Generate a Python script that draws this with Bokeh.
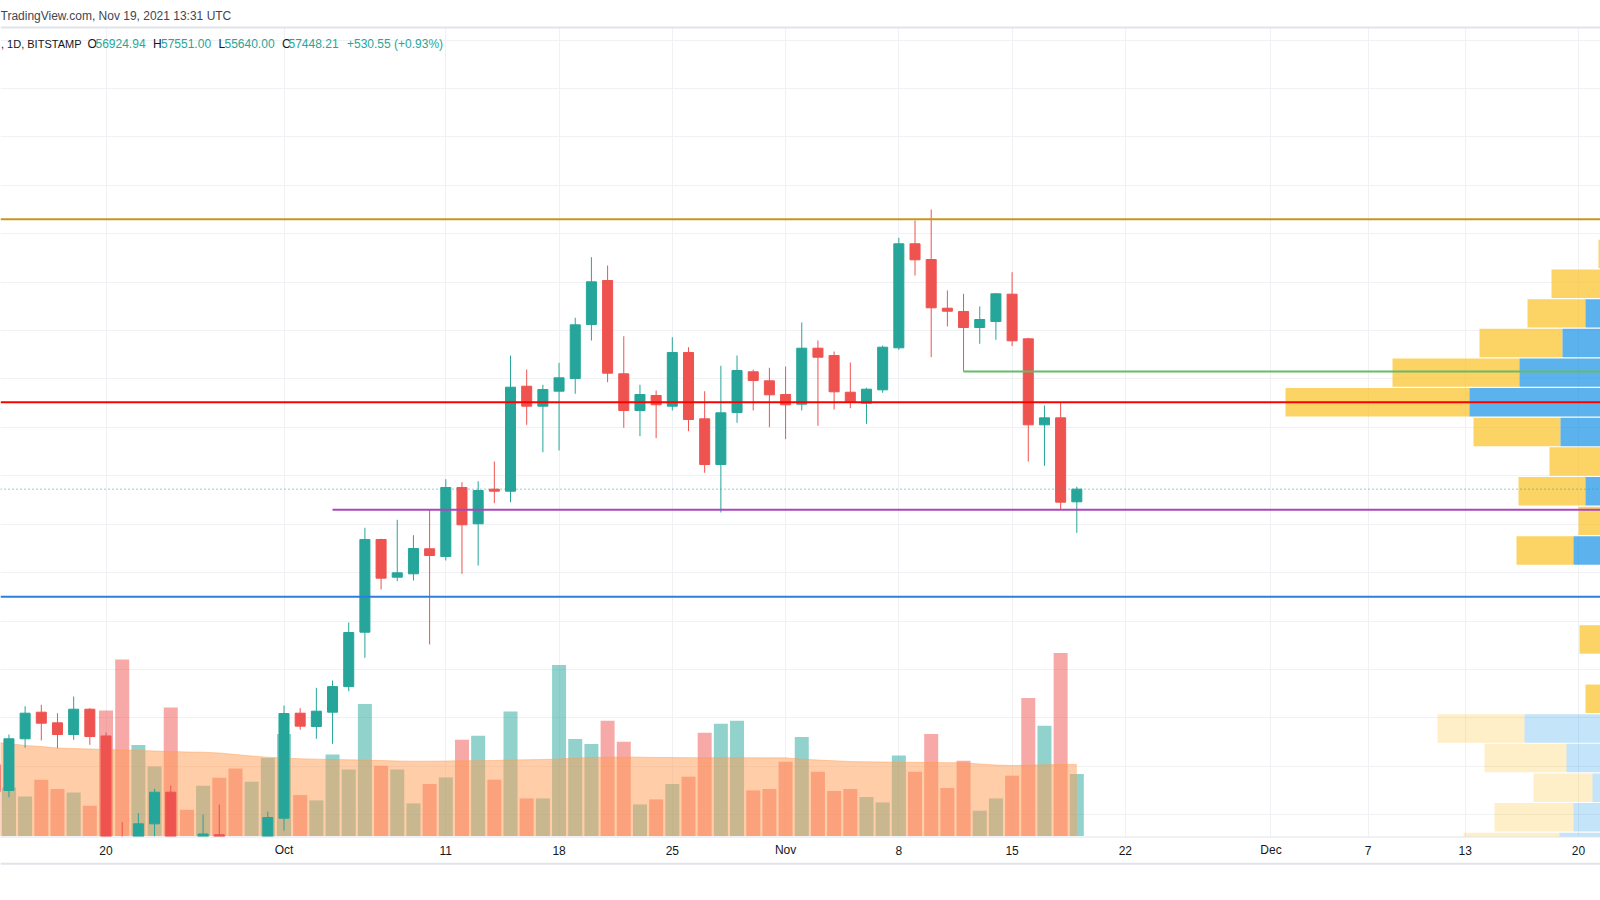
import pandas as pd
from bokeh.plotting import figure
from bokeh.models import Range1d, ColumnDataSource, Span, Label, LabelSet, Grid, FixedTicker
from bokeh.core.properties import value
from bokeh.embed import file_html
from bokeh.resources import INLINE

# ---------------- data ----------------
first_day = "2021-09-13"
last_day = "2021-11-19"

opens = [46060, 44996, 47133, 48232, 47792, 47310, 48356, 47250, 42990, 40700, 43620, 44926, 42800, 42700, 43170, 42150, 41050, 41520,
         43853, 48191, 47640, 48232, 49290, 51538, 55368, 53810, 53950, 54984, 54666, 57517, 56017, 57447, 57364, 61702, 60876, 61496,
         62020, 64252, 66070, 62215, 60698, 61318, 60876, 63095, 60355, 58467, 60615, 62297, 61925,
         61359, 60959, 63272, 62971, 61454, 61000, 61553, 63289, 67587, 66937, 64925, 64790, 64128, 64375, 65505, 63660, 60107, 60396, 56924.94]
highs = [46770, 47310, 48480, 48538, 48191, 48881, 48398, 47393, 43690, 44060, 45067, 45203, 42970, 44005, 44418, 42780, 42600, 44128,
         48509, 48398, 49240, 49540, 51938, 55851, 55400, 56182, 55546, 56595, 57860, 57736, 57777, 58591, 62971, 62392, 61760, 62669,
         64529, 67033, 66690, 63768, 61760, 61525, 63727, 63314, 61496, 62545, 62971, 62392, 62462,
         62516, 64335, 63590, 63136, 62681, 61636, 63383, 67835, 68550, 69003, 65660, 65520, 64997, 65540, 66413, 63700, 60905, 61016, 57551.00]
lows = [43400, 44720, 46761, 47063, 46745, 47091, 46885, 42500, 39600, 40550, 43100, 40700, 41650, 40800, 42100, 40900, 40800, 41400,
        43343, 47505, 47133, 46926, 49096, 50480, 53302, 53645, 53674, 51030, 54500, 53950, 54294, 56868, 56909, 60107, 58975, 59045,
        61388, 63590, 61868, 59983, 59636, 59554, 60698, 59843, 58124, 56484, 60190, 60698, 60008,
        59513, 60698, 60066, 60740, 60793, 60148, 61430, 63200, 66276, 62900, 64170, 62310, 63454, 63620, 63355, 58590, 58413, 56607, 55640.00]
closes = [44960, 47133, 48191, 47778, 47310, 48356, 47227, 42990, 40700, 43620, 44926, 42800, 42700, 43200, 42150, 41050, 41520, 43880,
          48177, 47654, 48274, 49290, 51525, 55368, 53769, 53992, 54996, 54707, 57517, 55975, 57393, 57364, 61661, 60876, 61566, 62049,
          64239, 66016, 62240, 60698, 61359, 60934, 63095, 60326, 58467, 60603, 62351, 61938, 61347,
          60934, 63272, 62900, 61471, 61029, 61578, 63314, 67587, 66925, 64942, 64800, 64128, 64458, 65520, 63578, 60107, 60396, 56910, 57448.21]
volumes = [2784, 1944, 1584, 2252, 1880, 1744, 1212, 5024, 7064, 3640, 2784, 5144, 1052, 2012, 2332, 2704, 2172, 3120,
           4080, 1640, 1424, 3264, 2664, 5280, 2812, 2664, 1304, 2080, 2344, 3852, 4012, 2252, 4984, 1504, 1504, 6840,
           3880, 3680, 4612, 3772, 1264, 1464, 2080, 2372, 4132, 4492, 4612, 1824, 1880,
           2972, 3960, 2572, 1800, 1880, 1560, 1344, 3224, 2572, 4080, 1920, 3012, 1012, 1504, 2412, 5520, 4412, 7320, 2480]
volume_ma = [3752, 3700, 3620, 3580, 3520, 3500, 3480, 3460, 3440, 3420, 3400, 3380, 3360, 3352, 3320, 3260, 3200, 3150,
             3120, 3090, 3075, 3060, 3048, 3036, 3020, 3000, 2992, 2992, 3000, 3008, 3012, 3020, 3040, 3048, 3060, 3080,
             3120, 3140, 3152, 3160, 3152, 3140, 3140, 3132, 3132, 3132, 3132, 3128, 3128,
             3128, 3072, 3040, 3008, 2980, 2968, 2960, 2952, 2948, 2940, 2932, 2928, 2880, 2840, 2820, 2832, 2848, 2860, 2860]

tick_dates = ["2021-09-20", "2021-10-01", "2021-10-11", "2021-10-18", "2021-10-25", "2021-11-01", "2021-11-08",
              "2021-11-15", "2021-11-22", "2021-12-01", "2021-12-07", "2021-12-13", "2021-12-20"]
tick_labels = ["20", "Oct", "11", "18", "25", "Nov", "8", "15", "22", "Dec", "7", "13", "20"]
price_grid = [42000, 44000, 46000, 48000, 50000, 52000, 54000, 56000, 58000, 60000,
              62000, 64000, 66000, 68000, 70000, 72000, 74000, 76000]

# horizontal levels
level_gold = 68600
level_red = 61040
level_blue = 53000
level_green = 62310
level_green_from = "2021-11-12"
level_purple = 56600
level_purple_from = "2021-10-04"
last_close = 57448.21

# visible-range volume profile (24 rows, bottom to top)
vp_low = 39600
vp_row = 1225
vp_down = [40, 60, 96, 79, 59, 82, 87, 23, 14, 28, 12, 13, 57, 32, 67, 55, 87, 184, 127, 83, 58, 54, 20, 4]
vp_up = [30, 50, 73, 59, 40, 66, 108, 24, 12, 25, 10, 12, 59, 22, 47, 28, 72, 163, 113, 70, 47, 27, 14, 3]
vp_in_value_area = [False] * 7 + [True] * 17

# ---------------- layout (page pixels) ----------------
PX_PER_DAY = 16.18
X_OCT1 = 283.5
Y_REF, P_REF, P_PER_PX = 475.3, 58000.0, 41.32
VOL_BASE, VOL_PER_PX = 835.5, 40.0
FL, FR, FT, FB = 0, 1600, 0, 866
VP_RIGHT_PX = 1632


def day_at(px):
    return (px - X_OCT1) / PX_PER_DAY


def price_at(py):
    return P_REF - (py - Y_REF) * P_PER_PX


def vol_at(py):
    return (VOL_BASE - py) * VOL_PER_PX


oct1 = pd.Timestamp("2021-10-01")
dates = pd.date_range(first_day, last_day, freq="D")
days = [(d - oct1).days for d in dates]
tick_days = [(pd.Timestamp(t) - oct1).days for t in tick_dates]

UP, DOWN = "#26A69A", "#EF5350"
up = [c >= o for o, c in zip(opens, closes)]
colors = [UP if u else DOWN for u in up]

src = ColumnDataSource(dict(
    x=days, o=opens, h=highs, l=lows, c=closes,
    top=[max(o, c) for o, c in zip(opens, closes)],
    bot=[min(o, c) for o, c in zip(opens, closes)],
    vol=volumes, ma=volume_ma, color=colors))

p = figure(width=FR - FL, height=FB - FT,
           x_range=Range1d(day_at(FL), day_at(FR)),
           y_range=Range1d(price_at(FB), price_at(FT)),
           x_axis_type=None, y_axis_type=None,
           output_backend="svg", toolbar_location=None,
           min_border=0, outline_line_color=None,
           background_fill_color="white", border_fill_color="white")
p.extra_y_ranges = {"vol": Range1d(vol_at(FB), vol_at(FT))}

GRID = "#F0F1F4"
p.add_layout(Grid(dimension=0, ticker=FixedTicker(ticks=tick_days), grid_line_color=GRID, grid_line_width=1))
p.add_layout(Grid(dimension=1, ticker=FixedTicker(ticks=price_grid), grid_line_color=GRID, grid_line_width=1))

# volume bars + MA area
p.vbar(x="x", width=0.865, top="vol", bottom=0, source=src, fill_color="color", fill_alpha=0.5,
       line_color=None, y_range_name="vol")
p.varea(x="x", y1=0, y2="ma", source=src, fill_color="#FF9B51", fill_alpha=0.5, y_range_name="vol")
p.line(x="x", y="ma", source=src, line_color="#FF9B51", line_alpha=0.45, line_width=1, y_range_name="vol")

# candles
p.segment(x0="x", y0="l", x1="x", y1="h", source=src, line_color="color", line_width=1)
p.vbar(x="x", width=0.62, top="top", bottom="bot", source=src, fill_color="color", line_color="color", line_width=1)

# volume profile
vp_right = day_at(VP_RIGHT_PX)
gap = 0.6 * P_PER_PX
rows = list(range(len(vp_up)))
vp_src = ColumnDataSource(dict(
    b=[vp_low + k * vp_row + gap for k in rows],
    t=[vp_low + (k + 1) * vp_row - gap for k in rows],
    dl=[vp_right - (vp_down[k] + vp_up[k]) / PX_PER_DAY for k in rows],
    mid=[vp_right - vp_up[k] / PX_PER_DAY for k in rows],
    r=[vp_right] * len(rows),
    a=[0.7 if v else 0.25 for v in vp_in_value_area]))
p.quad(left="dl", right="mid", bottom="b", top="t", source=vp_src, fill_color="#FBC123", fill_alpha="a", line_color=None)
p.quad(left="mid", right="r", bottom="b", top="t", source=vp_src, fill_color="#1592E6", fill_alpha="a", line_color=None)

# drawn levels
p.ray(x=[(pd.Timestamp(level_green_from) - oct1).days], y=[level_green], length=0, angle=0,
      line_color="#66BB6A", line_width=2)
p.ray(x=[(pd.Timestamp(level_purple_from) - oct1).days], y=[level_purple], length=0, angle=0,
      line_color="#AB47BC", line_width=2)

# white strips: header band and time-axis band
x0, x1 = day_at(FL), day_at(FR)
p.quad(left=x0, right=x1, top=price_at(FT), bottom=price_at(27), fill_color="white", line_color=None)
p.quad(left=x0, right=x1, top=price_at(836.5), bottom=price_at(FB), fill_color="white", line_color=None)

p.add_layout(Span(location=level_gold, dimension="width", line_color="#C8961B", line_width=2))
p.add_layout(Span(location=level_red, dimension="width", line_color="#FF0000", line_width=2))
p.add_layout(Span(location=level_blue, dimension="width", line_color="#2B7FDD", line_width=2))
p.add_layout(Span(location=last_close, dimension="width", line_color=UP, line_width=1, line_dash="1 3"))
p.add_layout(Span(location=price_at(27), dimension="width", line_color="#E0E3EB", line_width=2))
p.add_layout(Span(location=price_at(836.5), dimension="width", line_color="#E0E3EB", line_width=1))
p.add_layout(Span(location=price_at(863.3), dimension="width", line_color="#E0E3EB", line_width=2))

FONT = "Liberation Sans"
DARK = "#131722"

# time axis labels
tick_src = ColumnDataSource(dict(x=tick_days, label=tick_labels))
p.add_layout(LabelSet(x="x", y=FB - 849.5, y_units="screen", text="label", source=tick_src,
                      text_align="center", text_baseline="middle", text_font=value(FONT),
                      text_font_size="12px", text_color=DARK))


# header texts
def add_text(xs, ys, txt, color, align="left", size="12px"):
    p.add_layout(Label(x=xs - FL, y=FB - ys, x_units="screen", y_units="screen", text=txt,
                       text_align=align, text_baseline="middle", text_font=FONT,
                       text_font_size=size, text_color=color))


add_text(0, 15, "TradingView.com, Nov 19, 2021 13:31 UTC", "#434651")
add_text(0.5, 43, ", 1D, BITSTAMP", DARK, size="11px")
legend_parts = [(87, "O", DARK), (95, "56924.94", UP),
                (152.5, "H", DARK), (160.5, "57551.00", UP), (218, "L", DARK), (224, "55640.00", UP),
                (281.5, "C", DARK), (288, "57448.21", UP), (346.5, "+530.55 (+0.93%)", UP)]
for xs, txt, col in legend_parts:
    add_text(xs, 43, txt, col)

open("out.html", "w").write(file_html(p, INLINE))
